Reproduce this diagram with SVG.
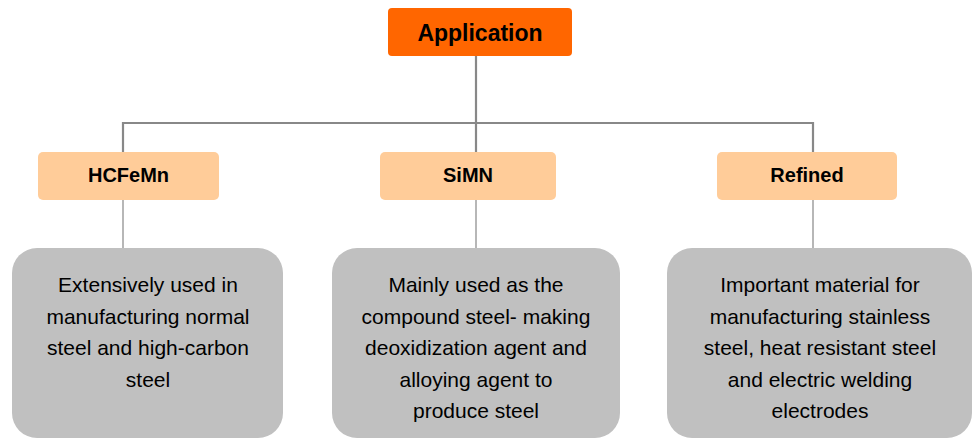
<svg xmlns="http://www.w3.org/2000/svg" width="977" height="439" viewBox="0 0 977 439">
<style>
.main{fill:#FF6600}
.cat{fill:#FFCC99}
.desc{fill:#C0C0C0}
.t{font-family:"Liberation Sans",Arial,sans-serif;text-anchor:middle;fill:#000}
.tb{font-weight:bold}
.body{font-size:21px}
.conn{stroke:#888888;fill:none}
</style>
<rect width="977" height="439" fill="#FFFFFF"/>
<g id="connectors">
<path class="conn" stroke-width="2.2" d="M476 56V123M123 123H813M123 122V152M476 123V152M813 122V152"/>
<path class="conn" stroke-width="1.2" d="M123 200V248M476 200V248M813 200V248"/>
</g>
<g id="application">
<rect class="main" x="388" y="8" width="184" height="48" rx="4"/>
<text class="t tb" x="480" y="41" font-size="23">Application</text>
</g>
<g id="hcfemn">
<rect class="cat" x="38" y="152" width="181" height="48" rx="5"/>
<text class="t tb" x="128.5" y="182" font-size="20">HCFeMn</text>
</g>
<g id="simn">
<rect class="cat" x="380" y="152" width="176" height="48" rx="5"/>
<text class="t tb" x="468" y="182" font-size="20">SiMN</text>
</g>
<g id="refined">
<rect class="cat" x="717" y="152" width="180" height="48" rx="5"/>
<text class="t tb" x="807" y="182" font-size="20">Refined</text>
</g>
<g id="hcfemn-desc">
<rect class="desc" x="12" y="248" width="271" height="190" rx="25"/>
<text class="t body" x="148" y="292">Extensively used in</text>
<text class="t body" x="148" y="323.5">manufacturing normal</text>
<text class="t body" x="148" y="355">steel and high-carbon</text>
<text class="t body" x="148" y="386.5">steel</text>
</g>
<g id="simn-desc">
<rect class="desc" x="332" y="248" width="288" height="190" rx="25"/>
<text class="t body" x="476" y="292">Mainly used as the</text>
<text class="t body" x="476" y="323.5">compound steel- making</text>
<text class="t body" x="476" y="355">deoxidization agent and</text>
<text class="t body" x="476" y="386.5">alloying agent to</text>
<text class="t body" x="476" y="418">produce steel</text>
</g>
<g id="refined-desc">
<rect class="desc" x="667" y="248" width="305" height="190" rx="25"/>
<text class="t body" x="820" y="292">Important material for</text>
<text class="t body" x="820" y="323.5">manufacturing stainless</text>
<text class="t body" x="820" y="355">steel, heat resistant steel</text>
<text class="t body" x="820" y="386.5">and electric welding</text>
<text class="t body" x="820" y="418">electrodes</text>
</g>
</svg>
